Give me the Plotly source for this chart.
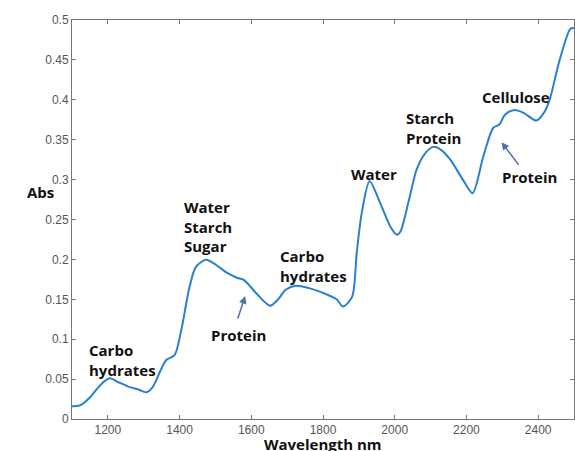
import plotly.graph_objects as go

# NIR absorbance spectrum
wavelength = [1100, 1122, 1150, 1180, 1205, 1230, 1261, 1285, 1307, 1325, 1344,
              1363, 1386, 1405, 1428, 1446, 1474, 1502, 1533, 1560, 1580, 1613,
              1652, 1675, 1696, 1724, 1761, 1811, 1838, 1856, 1881, 1894, 1908,
              1930, 1960, 1988, 2006, 2016, 2040, 2061, 2085, 2108, 2130, 2155,
              2190, 2217, 2247, 2275, 2292, 2307, 2331, 2358, 2395, 2415, 2432,
              2460, 2490, 2500]
absorbance = [0.016, 0.017, 0.027, 0.043, 0.051, 0.046, 0.040, 0.037, 0.0335, 0.040, 0.058,
              0.074, 0.080, 0.112, 0.166, 0.191, 0.1995, 0.193, 0.183, 0.177, 0.174, 0.158,
              0.142, 0.150, 0.162, 0.167, 0.164, 0.156, 0.150, 0.141, 0.153, 0.208, 0.258,
              0.298, 0.270, 0.241, 0.231, 0.235, 0.275, 0.3125, 0.333, 0.341, 0.337, 0.325,
              0.300, 0.283, 0.329, 0.365, 0.369, 0.381, 0.387, 0.384, 0.374, 0.383, 0.400,
              0.450, 0.489, 0.490]

x_ticks = [1200, 1400, 1600, 1800, 2000, 2200, 2400]
y_ticks = [0, 0.05, 0.1, 0.15, 0.2, 0.25, 0.3, 0.35, 0.4, 0.45, 0.5]
y_tick_text = ["0", "0.05", "0.1", "0.15", "0.2", "0.25", "0.3", "0.35", "0.4", "0.45", "0.5"]

# band labels: (text, x, y)
band_labels = [
    ("Carbo<br>hydrates", 1142, 0.074),
    ("Water<br>Starch<br>Sugar", 1406, 0.241),
    ("Protein", 1483, 0.1054),
    ("Carbo<br>hydrates", 1675, 0.192),
    ("Water", 1872, 0.3075),
    ("Starch<br>Protein", 2025, 0.3646),
    ("Cellulose", 2239, 0.404),
    ("Protein", 2294, 0.3037),
]
# arrows: (head x, head y, tail x, tail y)
arrows = [
    (1583, 0.154, 1561, 0.124),
    (2298, 0.3467, 2349, 0.3166),
]

label_font = dict(family="Open Sans", size=15, color="#111111")
axis_grey = "#777777"

fig = go.Figure()
fig.add_trace(go.Scatter(
    x=wavelength, y=absorbance, mode="lines",
    line=dict(color="#2a80d0", width=2, shape="spline", smoothing=0.8),
    showlegend=False,
))

for text, x, y in band_labels:
    fig.add_annotation(x=x, y=y, text="<b>" + text + "</b>", showarrow=False,
                       xanchor="left", yanchor="middle", align="left",
                       font=label_font)

for hx, hy, tx, ty in arrows:
    fig.add_annotation(x=hx, y=hy, ax=tx, ay=ty, axref="x", ayref="y",
                       text="", showarrow=True, arrowhead=2, arrowsize=1,
                       arrowwidth=1.5, arrowcolor="#4f6fa8")

fig.add_annotation(x=-0.094, y=0.569, xref="paper", yref="paper",
                   text="<b>Abs</b>", showarrow=False, font=label_font)
fig.add_annotation(x=0.5, y=-0.062, xref="paper", yref="paper",
                   text="<b>Wavelength nm</b>", showarrow=False,
                   yanchor="middle", font=label_font)

fig.update_xaxes(range=[1100, 2500], tickvals=x_ticks, ticks="inside", ticklen=4,
                 tickcolor=axis_grey, showline=True, linecolor=axis_grey, linewidth=1,
                 mirror="ticks", showgrid=False, zeroline=False,
                 tickfont=dict(family="Liberation Sans", size=12, color="#555555"))
fig.update_yaxes(range=[0, 0.5], tickvals=y_ticks, ticktext=y_tick_text,
                 ticks="inside", ticklen=4, tickcolor=axis_grey, showline=True,
                 linecolor=axis_grey, linewidth=1, mirror="ticks", showgrid=False,
                 zeroline=False,
                 tickfont=dict(family="Liberation Sans", size=12, color="#555555"))

fig.update_layout(
    width=575, height=451,
    margin=dict(l=72, r=1, t=20, b=32),
    plot_bgcolor="white", paper_bgcolor="white",
)

# drop the page's default body margin so the figure fills the window exactly
fig.write_html("out.html", config={"displayModeBar": False},
               post_script="document.body.style.margin='0';")
